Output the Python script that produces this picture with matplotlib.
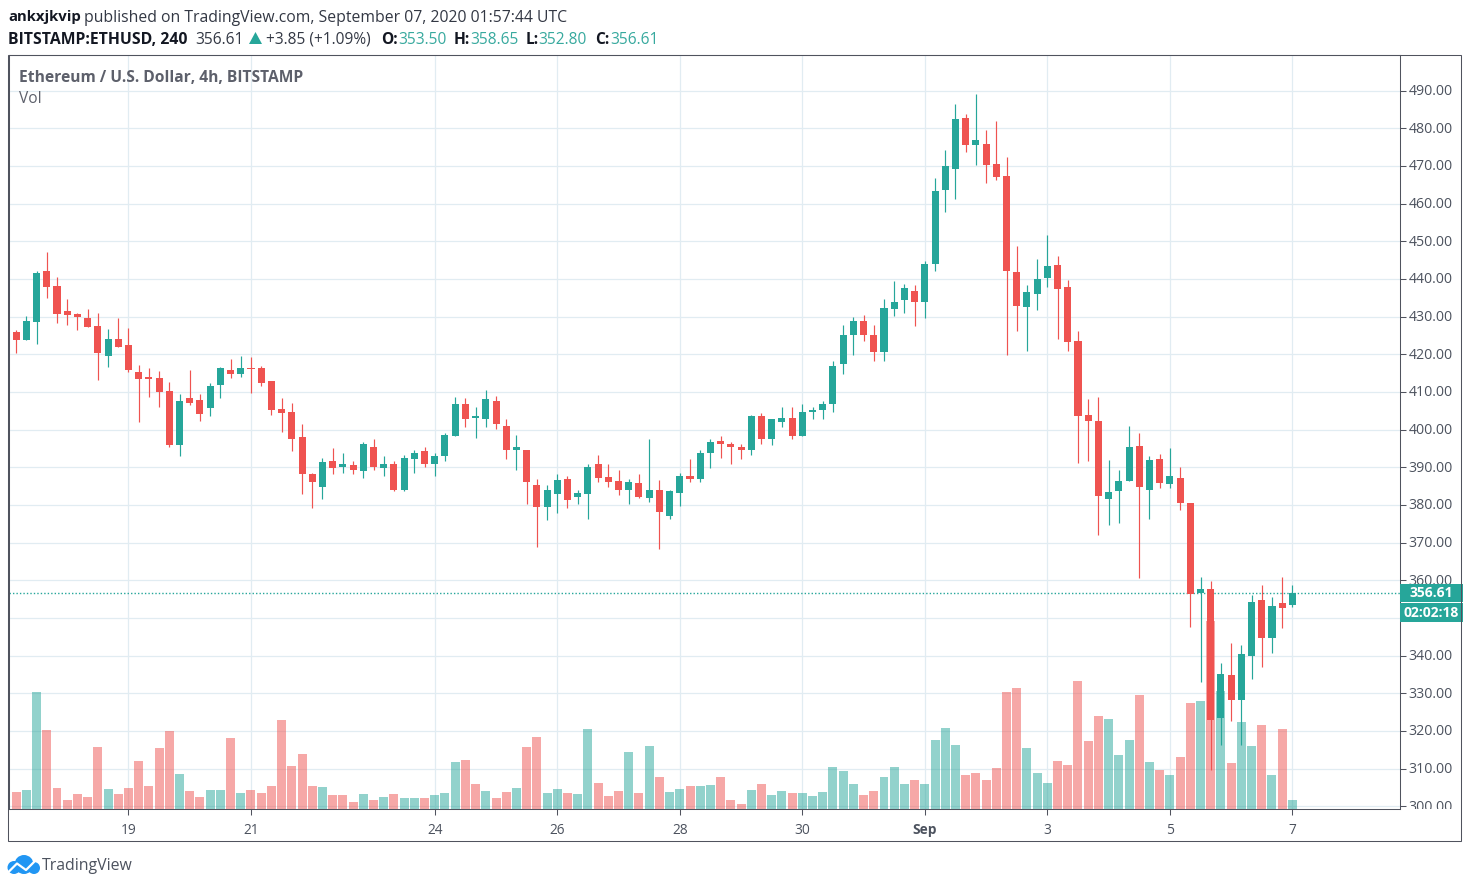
import matplotlib
matplotlib.use("Agg")
import matplotlib.pyplot as plt
from matplotlib.patches import Rectangle, Circle, Polygon
from matplotlib.transforms import Bbox, TransformedBbox, ScaledTranslation

# ---------- data ----------
opens = [426.0,423.9,428.6,442.1,438.2,431.5,430.7,429.7,427.6,419.6,424.1,422.5,415.4,414.0,413.8,410.3,396.0,408.5,408.0,405.8,
         411.9,415.9,414.8,416.4,416.4,413.0,405.6,404.8,398.1,388.1,384.9,391.6,390.2,390.5,388.9,395.5,389.7,391.0,383.9,392.3,
         394.2,390.8,393.1,398.4,406.9,403.2,402.7,407.7,401.1,394.7,394.7,385.2,379.4,382.8,386.8,382.0,382.8,390.8,387.3,386.3,
         384.1,385.7,381.8,383.9,377.2,383.3,387.8,387.0,393.9,396.9,396.1,395.5,394.5,403.7,397.4,401.9,403.0,398.4,404.8,405.3,
         406.7,417.3,425.0,428.9,425.2,420.7,432.1,434.3,436.7,433.9,443.9,463.6,469.1,482.7,475.5,475.8,470.5,467.3,441.8,432.5,
         436.0,440.2,443.7,437.8,423.5,403.9,402.3,381.5,383.6,386.3,395.6,383.9,392.1,385.5,387.1,380.4,356.5,357.6,323.4,334.8,
         328.1,339.8,354.7,344.6,353.9,353.5]
highs = [426.5,430.2,442.1,447.2,440.5,434.7,431.0,432.1,431.0,426.8,429.7,427.0,417.2,416.4,415.6,412.7,409.5,415.9,409.5,412.5,
         416.7,418.8,419.6,419.3,417.0,413.0,408.5,407.2,401.6,388.6,392.6,395.0,393.7,391.8,396.8,397.4,392.9,391.6,393.4,394.7,
         395.5,393.9,399.2,408.8,408.5,405.9,410.6,409.0,402.9,398.7,394.7,386.8,385.2,388.1,387.6,384.1,391.0,393.4,390.8,389.4,
         386.8,388.1,397.6,386.5,383.9,388.6,392.1,394.5,397.4,398.4,396.6,396.1,404.0,404.3,402.7,405.9,405.9,406.9,405.9,407.5,
         418.3,427.9,430.0,430.5,427.9,434.8,439.6,438.8,438.5,444.7,466.7,474.2,486.4,483.7,489.0,479.5,481.9,472.3,448.7,438.4,
         445.3,451.6,446.1,439.7,426.2,408.1,408.6,391.9,389.2,400.9,399.1,392.9,393.5,395.1,390.0,380.4,360.8,359.7,338.0,343.3,
         342.7,356.0,358.7,355.5,360.8,358.65]
lows = [420.4,423.9,422.8,435.0,428.4,427.8,426.5,427.3,413.3,416.7,422.0,415.4,402.1,408.7,406.1,395.5,393.1,406.6,402.4,403.7,
        408.5,413.8,414.0,409.8,411.7,404.0,399.5,394.2,383.0,379.3,381.5,388.1,388.6,388.1,387.1,389.2,387.6,383.6,383.6,388.6,
        390.0,387.6,391.6,398.4,400.8,397.9,400.6,400.3,392.1,389.4,380.2,368.8,375.9,377.8,379.1,380.2,376.2,386.0,384.9,382.6,
        380.2,381.8,380.7,368.2,376.4,379.6,386.2,386.2,389.7,392.6,390.8,392.3,393.4,396.1,395.8,400.6,397.4,398.2,402.7,402.7,
        404.8,414.9,419.9,423.6,418.1,418.3,430.3,431.1,427.4,429.6,442.1,457.7,461.2,473.6,470.2,465.4,466.2,419.8,426.2,420.9,
        431.7,437.8,424.0,420.9,391.1,391.6,371.9,374.6,375.1,386.3,360.7,376.4,384.4,384.4,378.6,347.5,332.9,309.6,316.2,322.6,
        316.2,333.7,336.9,340.6,347.3,352.8]
closes = [423.9,428.9,441.6,437.9,430.7,430.5,429.9,427.3,420.4,424.1,422.0,415.9,413.5,413.5,410.1,395.8,407.7,407.2,404.2,411.7,
          416.4,414.8,416.4,416.2,412.5,405.3,404.5,397.4,388.1,386.2,391.3,389.7,391.0,389.2,396.1,390.0,391.0,383.9,392.6,393.9,
          390.8,392.9,398.7,406.9,402.7,403.5,408.2,401.4,394.7,395.5,386.0,379.4,383.9,386.5,381.2,383.1,390.2,387.1,386.0,384.1,
          386.0,382.0,384.1,378.0,383.6,387.6,387.0,393.9,396.6,396.1,395.3,394.5,403.5,397.6,402.7,403.0,398.4,404.8,405.3,406.7,
          417.0,425.0,428.9,425.0,420.5,432.4,434.0,437.7,433.8,443.9,463.3,469.9,482.4,475.5,476.8,470.2,467.0,442.1,432.8,436.5,
          440.0,443.4,437.3,423.2,403.6,402.3,382.3,383.4,386.3,395.3,384.7,391.9,385.7,387.6,380.4,356.3,357.6,322.8,335.0,328.1,
          340.4,354.2,344.6,353.1,352.6,356.61]
volumes = [51,57,351,237,63,27,45,36,186,60,45,63,144,69,183,234,105,54,36,57,
           57,213,48,57,48,69,267,129,165,69,66,42,42,21,45,27,36,45,33,33,
           33,42,48,141,147,75,54,33,51,63,186,216,48,60,48,45,240,78,39,54,
           171,48,189,96,51,60,69,69,72,96,27,15,57,75,42,54,48,48,39,51,
           126,114,75,42,54,96,126,75,87,75,207,243,192,102,108,87,123,351,363,183,
           108,78,144,132,384,204,279,270,162,207,342,141,117,102,156,318,324,564,354,138,
           261,189,252,102,240,27]
vol_red_on_up_candles = [32, 45, 94]
tick_positions = [11, 23, 41, 53, 65, 77, 89, 101, 113, 125]
tick_labels = ["19", "21", "24", "26", "28", "30", "Sep", "3", "5", "7"]
price_ticks = list(range(300, 500, 10))
hidden_price_label = 350   # sits completely under the countdown box in the reference
last_price = 356.61

# ---------- style ----------
W, H = 1470, 888
UP, DOWN = "#26a69a", "#ef5350"
GRID = "#e1ecf2"
LINE = "#50535e"
TXT = "#4c525e"
FONT = ["Open Sans", "DejaVu Sans"]
plt.rcParams["font.family"] = FONT

fig = plt.figure(figsize=(W / 100, H / 100), dpi=100, facecolor="white")

def pos(x0, y0, x1, y1):
    return [x0 / W, 1 - y1 / H, (x1 - x0) / W, (y1 - y0) / H]

plot_box = pos(8.5, 55.5, 1399.5, 808.5)
ax_grid = fig.add_axes(plot_box, zorder=1)
ax_vol = fig.add_axes(plot_box, zorder=2, sharex=ax_grid)
ax = fig.add_axes(plot_box, zorder=3, sharex=ax_grid, sharey=ax_grid)
ax_vol.patch.set_visible(False)
ax.patch.set_visible(False)

n = len(closes)
xs = list(range(n))
is_up = [c >= o for o, c in zip(opens, closes)]

# grid
ax_grid.set_xlim(-0.75, 135.49)
ax_grid.set_ylim(299.4, 499.35)
ax_grid.set_xticks(tick_positions)
ax_grid.set_yticks(price_ticks)
ax_grid.grid(True, color=GRID, lw=0.9)
ax_grid.set_axisbelow(True)
ax_grid.tick_params(left=False, bottom=False, labelleft=False, labelbottom=False)
for s in ax_grid.spines.values():
    s.set_visible(False)

# volume
vol_colors = [(DOWN if (not u or i in vol_red_on_up_candles) else UP) for i, u in enumerate(is_up)]
ax_vol.bar(xs, volumes, width=0.88, color=vol_colors, alpha=0.5, linewidth=0)
ax_vol.set_ylim(0, 2259)
ax_vol.axis("off")

# candles
colors = [UP if u else DOWN for u in is_up]
ax.vlines(xs, lows, highs, colors=colors, lw=0.85, zorder=3)
ax.bar(xs, [abs(c - o) for o, c in zip(opens, closes)], bottom=[min(o, c) for o, c in zip(opens, closes)],
       width=0.69, color=colors, linewidth=0, zorder=4)
ax.axhline(last_price, color=UP, lw=1.0, ls=(0, (1.0, 1.5)), zorder=2)

# axes ticks and labels
ax.yaxis.tick_right()
ax.tick_params(axis="y", length=4.2, width=0.75, color=LINE, labelcolor=TXT, labelsize=10.2, pad=2.5)
ax.tick_params(axis="x", length=4.2, width=0.75, color=LINE, labelcolor=TXT, labelsize=9.9, pad=6)
ax.set_yticks(price_ticks)
ax.set_yticklabels(["" if p == hidden_price_label else f"{p:.2f}" for p in price_ticks])
ax.set_xticks(tick_positions)
ax.set_xticklabels(tick_labels)
for lab in ax.get_xticklabels():
    if lab.get_text() == "Sep":
        lab.set_fontweight("bold")
nudge = ScaledTranslation(0, 1.2 / 100, fig.dpi_scale_trans)
for lab in ax.get_yticklabels():
    lab.set_transform(lab.get_transform() + nudge)
    lab.set_clip_on(True)
    lab.set_clip_box(TransformedBbox(Bbox([[1.0, 0.0], [1.06, 1.0]]), ax.transAxes))
for s in ax.spines.values():
    s.set_color(LINE)
    s.set_linewidth(0.75)

# price and countdown labels
ytr = ax.get_yaxis_transform()
box_w = 63.0 / 1391.0
ax.add_patch(Rectangle((1.0, last_price - 2.35), box_w, 4.7, transform=ytr, color=UP, lw=0, clip_on=False, zorder=6))
ax.add_patch(Rectangle((1.0, last_price - 7.8), box_w, 5.2, transform=ytr, color=UP, lw=0, clip_on=False, zorder=6))
ax.text(1.0 + box_w / 2, last_price, f"{last_price:.2f}", transform=ytr, color="white", fontsize=10,
        fontweight="bold", ha="center", va="center", zorder=7, clip_on=False)
ax.text(1.0 + box_w / 2, last_price - 5.2, "02:02:18", transform=ytr, color="white", fontsize=10,
        fontweight="bold", ha="center", va="center", zorder=7, clip_on=False)

# full-figure layer for frame, header and logo (pixel coordinates)
ov = fig.add_axes([0, 0, 1, 1], zorder=10)
ov.set_xlim(0, W)
ov.set_ylim(H, 0)
ov.axis("off")
ov.patch.set_visible(False)
ov.add_patch(Rectangle((8.5, 55.5), 1453, 785.5, fill=False, ec=LINE, lw=0.75))

HEAD = "#131722"
VAL = "#37a99e"
def t(x, y, s, color=HEAD, bold=False, size=11.2):
    ov.text(x, y, s, color=color, fontsize=size, fontweight="bold" if bold else "normal", ha="left", va="center")

t(8, 17.5, "ankxjkvip", bold=True, size=10.7)
t(84.5, 17.5, "published on TradingView.com, September 07, 2020 01:57:44 UTC", color="#333844", size=11.32)
t(8, 39.5, "BITSTAMP:ETHUSD, 240", bold=True, size=11.3)
t(195, 39.5, "356.61", color="#333844")
ov.add_patch(Polygon([(249, 44), (255.5, 32), (262, 44)], closed=True, color=UP, lw=0))
t(266, 39.5, "+3.85 (+1.09%)", color="#333844")
for lx, s, vx, v in [(381, "O:", 398, "353.50"), (453.5, "H:", 470.5, "358.65"),
                     (525.5, "L:", 538.5, "352.80"), (595, "C:", 610.5, "356.61")]:
    t(lx, 39.5, s, bold=True)
    t(vx, 39.5, v, color=VAL)

t(19, 77.5, "Ethereum / U.S. Dollar, 4h, BITSTAMP", color="#5d606b", bold=True, size=11.25)
t(19, 99, "Vol", color="#5d606b", size=11.2)

# logo
BLUE = "#2196f3"
logo_clip = Rectangle((6, 850), 36, 24, transform=ov.transData)
for c in [(24, 864.5, 9.5), (14, 867.5, 6.5), (34, 868, 6)]:
    p = Circle(c[:2], c[2], color=BLUE, lw=0)
    ov.add_patch(p)
    p.set_clip_path(logo_clip)
ov.plot([8.5, 17, 26, 36], [872, 863.5, 870, 860], color="white", lw=1.6, solid_joinstyle="round")
t(42, 866, "TradingView", color=TXT, size=11.4)

fig.savefig("out.png", dpi=100, facecolor="white")
